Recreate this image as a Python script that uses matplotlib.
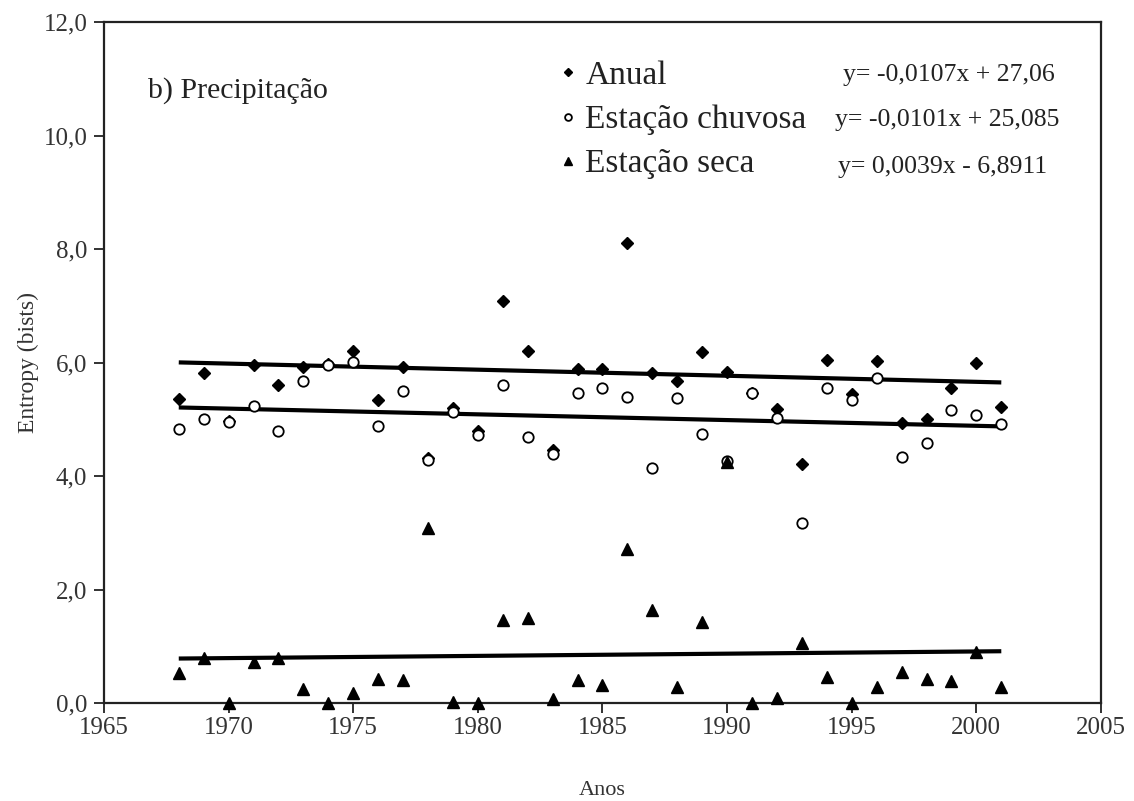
import numpy as np
import matplotlib
matplotlib.use("Agg")
import matplotlib.pyplot as plt

plt.rcParams['font.family'] = ['Liberation Serif', 'DejaVu Serif']

anos = np.arange(1968, 2002)

anual = [5.36, 5.82, 4.97, 5.95, 5.61, 5.93, 5.97, 6.21, 5.34, 5.93,
         4.31, 5.20, 4.80, 7.08, 6.21, 4.45, 5.88, 5.88, 8.11, 5.81,
         5.67, 6.19, 5.84, 5.46, 5.18, 4.22, 6.04, 5.44, 6.03, 4.93,
         5.00, 5.55, 6.00, 5.22]

chuvosa = [4.83, 5.00, 4.96, 5.23, 4.80, 5.67, 5.95, 6.01, 4.88, 5.50,
           4.29, 5.13, 4.73, 5.60, 4.69, 4.38, 5.46, 5.55, 5.40, 4.14,
           5.38, 4.74, 4.27, 5.47, 5.02, 3.18, 5.56, 5.34, 5.73, 4.34,
           4.58, 5.16, 5.07, 4.92]

seca = [0.53, 0.79, 0.00, 0.73, 0.79, 0.24, 0.00, 0.17, 0.43, 0.41,
        3.08, 0.02, 0.00, 1.46, 1.49, 0.07, 0.41, 0.32, 2.71, 1.64,
        0.29, 1.43, 4.25, 0.00, 0.08, 1.05, 0.46, 0.00, 0.29, 0.55,
        0.43, 0.39, 0.90, 0.29]

# linear trends (slope, intercept)
trend_anual = (-0.0107, 27.06)
trend_chuvosa = (-0.0101, 25.085)
trend_seca = (0.0039, -6.8911)

eq_labels = ["y= -0,0107x + 27,06", "y= -0,0101x + 25,085", "y= 0,0039x - 6,8911"]
series_labels = ["Anual", "Estação chuvosa", "Estação seca"]

fig = plt.figure(figsize=(11.34, 8.01), dpi=100)
ax = fig.add_axes([0.0917, 0.1223, 0.8792, 0.8502])

h1, = ax.plot(anos, anual, linestyle='none', marker='D', ms=6.5, color='black',
              clip_on=False, zorder=4)
h2, = ax.plot(anos, chuvosa, linestyle='none', marker='o', ms=7.5, mfc='white',
              mec='black', mew=1.3, clip_on=False, zorder=4)
h3, = ax.plot(anos, seca, linestyle='none', marker='^', ms=8.5, color='black',
              clip_on=False, zorder=4)

for slope, icpt in (trend_anual, trend_chuvosa, trend_seca):
    xs = np.array([anos[0], anos[-1]])
    ax.plot(xs, slope * xs + icpt, color='black', lw=3, solid_capstyle='butt',
            zorder=3)

ax.set_xlim(1965, 2005)
ax.set_ylim(0, 12)
ax.set_xticks(np.arange(1965, 2006, 5))
ax.set_yticks(np.arange(0, 12.1, 2))
ax.set_yticklabels([f"{v:.1f}".replace('.', ',') for v in np.arange(0, 12.1, 2)])
ax.tick_params(direction='out', length=7, width=1.3, labelsize=18, colors='#222222',
               labelcolor='#333333')
ax.tick_params(axis='y', pad=5)
ax.tick_params(axis='x', pad=3)
for sp in ax.spines.values():
    sp.set_linewidth(1.6)
    sp.set_color('#222222')

ax.set_xlabel("Anos", fontsize=16, color='#333333', labelpad=30)
ax.set_ylabel("Entropy (bists)", fontsize=17, color='#333333', labelpad=3)

ax.text(0.044, 0.900, "b) Precipitação", transform=ax.transAxes, fontsize=21.5,
        color='#222222', va='center')

leg = ax.legend([h1, h2, h3], series_labels, loc='upper left',
                bbox_to_anchor=(0.444, 0.963), frameon=False, fontsize=24,
                handlelength=0.5, handletextpad=0.26, labelspacing=0.41,
                borderaxespad=0, markerscale=0.65)
for t in leg.get_texts():
    t.set_color('#222222')

eq_pos = [(0.741, 0.922), (0.733, 0.856), (0.736, 0.787)]
for (x, y), lab in zip(eq_pos, eq_labels):
    ax.text(x, y, lab, transform=ax.transAxes, fontsize=18.5, color='#222222',
            va='center')

fig.savefig("out.png", dpi=100)
